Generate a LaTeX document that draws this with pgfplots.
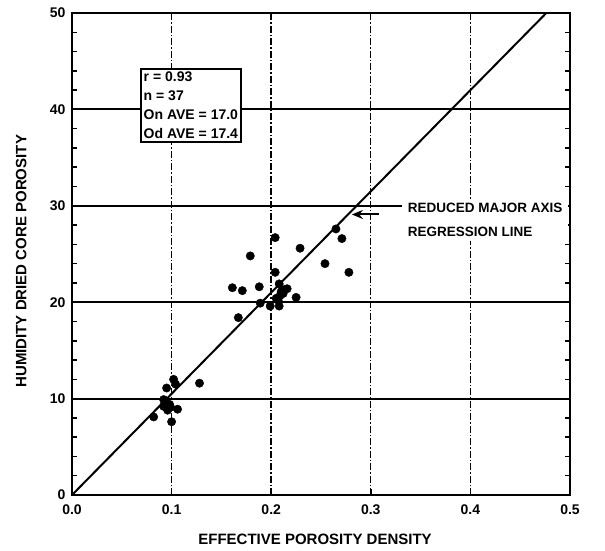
\documentclass[border=0pt]{standalone}
\usepackage{fontspec}
\setmainfont{Liberation Sans}
\usepackage{pgfplots}
\pgfplotsset{compat=1.18}
\usetikzlibrary{arrows.meta}

\pgfplotstableread{
x      y
0.265  27.6
0.271  26.6
0.204  26.7
0.229  25.6
0.179  24.8
0.254  24.0
0.278  23.1
0.204  23.1
0.161  21.5
0.171  21.2
0.188  21.6
0.208  21.9
0.216  21.4
0.225  20.5
0.209  20.7
0.210  21.1
0.205  20.4
0.189  19.9
0.199  19.6
0.208  19.6
0.167  18.4
0.128  11.6
0.095  11.1
0.102  12.0
0.104  11.5
0.092  9.9
0.092  9.2
0.096  8.8
0.099  9.1
0.106  8.9
0.082  8.1
0.100  7.6
0.094  9.5
0.098  9.4
0.212  20.9
0.207  20.2
0.213  21.3
}\porosity

\begin{document}
\begin{tikzpicture}
\begin{axis}[
  scale only axis,
  width=498pt, height=482pt,
  xmin=0, xmax=0.5, ymin=0, ymax=50,
  xtick={0,0.1,0.2,0.4,0.5},
  extra x ticks={0.3},
  extra x tick style={major grid style={line width=1.4pt, black, dotted}},
  ytick={0,10,20,30,40,50},
  minor x tick num=4, minor y tick num=4,
  xtick pos=left, ytick pos=both,
  tick align=inside,
  major tick length=6pt, minor tick length=5pt,
  tick style={line width=1.5pt, black},
  axis line style={line width=2.3pt},
  grid=major,
  y grid style={line width=2.1pt, black},
  x grid style={line width=1.4pt, black, dash pattern=on 7pt off 2pt on 1.5pt off 2pt},
  /pgf/number format/assume math mode=true,
  xticklabel style={yshift=-6pt, /pgf/number format/.cd, fixed, fixed zerofill, precision=1},
  yticklabel style={xshift=-3pt},
  ticklabel style={font=\bfseries\fontsize{14}{14}\selectfont},
  xlabel={EFFECTIVE POROSITY DENSITY},
  ylabel={HUMIDITY DRIED CORE POROSITY},
  label style={font=\bfseries\fontsize{15}{15}\selectfont},
  xlabel style={at={(axis description cs:0.488,-0.093)}, anchor=center},
  ylabel style={at={(axis description cs:-0.102,0.485)}, anchor=center},
]
% reduced major axis regression line
\addplot[line width=2pt, black, no marks] coordinates {(0,0) (0.4762,50)};
% measured samples
\addplot[only marks, mark=*, mark size=4.2pt, black] table[x=x, y=y] {\porosity};

% statistics box
\node[draw, line width=2pt, fill=white, anchor=north west, align=left,
      inner sep=3pt, font=\bfseries\fontsize{14}{19}\selectfont]
  at (axis cs:0.068,44.3) {r = 0.93\\n = 37\\On AVE = 17.0\\Od AVE = 17.4};

% regression line annotation
\node[fill=white, anchor=west, align=left, inner xsep=6pt, inner ysep=4pt,
      font=\bfseries\fontsize{13.5}{24}\selectfont]
  at (axis cs:0.331,28.55) {REDUCED MAJOR AXIS\\REGRESSION LINE};
\draw[-{Stealth[length=11pt,width=9pt]}, line width=2pt]
  (axis cs:0.308,29.1) -- (axis cs:0.281,29.1);
\end{axis}
\useasboundingbox (-72pt,-55pt) rectangle (533pt,495pt);
\end{tikzpicture}
\end{document}
